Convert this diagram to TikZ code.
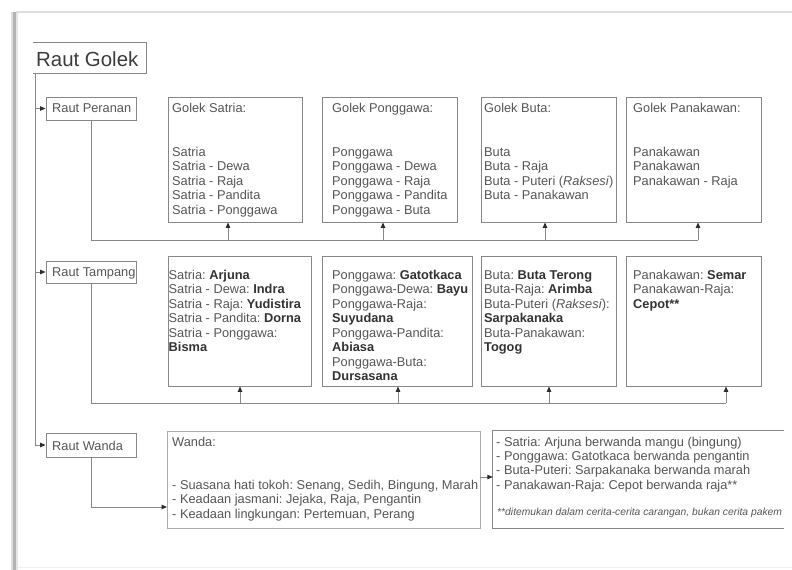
\documentclass[tikz,border=0pt]{standalone}
\usepackage{fontspec}
\setmainfont{Liberation Sans}
\usetikzlibrary{arrows.meta,fit}
\definecolor{linec}{RGB}{135,135,135}
\definecolor{txtc}{RGB}{85,85,85}
\definecolor{boldc}{RGB}{50,50,50}
\definecolor{arrc}{RGB}{45,45,45}
\definecolor{titlec}{RGB}{60,60,60}
\newcommand{\rows}[1]{\begin{tabular}[t]{@{}l@{}}#1\end{tabular}}
\newcommand{\bb}[1]{\textbf{\color{boldc}#1}}
\frenchspacing
\begin{document}
\frenchspacing
\begin{tikzpicture}[x=1bp,y=-1bp,
  box/.style={draw=linec, line width=0.9bp, inner sep=0pt},
  lightbox/.style={draw=linec!70, line width=0.8bp, inner sep=0pt},
  hidden/.style={draw=none, inner sep=0pt},
  txt/.style={inner sep=0pt, anchor=base west, text=txtc, font=\fontsize{12.85}{14.55}\selectfont\frenchspacing},
  conn/.style={draw=linec, line width=0.9bp},
  arr/.style={conn, -{Triangle[length=5.5bp,width=4.5bp,color=arrc]}},
]
\useasboundingbox (0,0) rectangle (792,570);
% page frame
\fill[gray!25] (11,12) rectangle (13,570);
\fill[gray!60] (13,12) rectangle (16,570);
\fill[gray!20] (16,12) rectangle (18,570);
\draw[gray!25, line width=1.2bp] (16,12) -- (792,12);
\draw[gray!12, line width=1bp] (18,567) -- (792,567);

% boxes
\node[hidden, fit={(33,43) (146,73)}] (golek) {};
\draw[conn] (golek.north west) -- (golek.north east) -- (golek.south east) -- (golek.south west);
\node[box, fit={(46,97) (136,120)}] (peranan) {};
\node[box, fit={(46,261) (136,283)}] (tampang) {};
\node[box, fit={(46,433) (136,457)}] (wandalbl) {};

\node[box, fit={(168,97) (302,222)}] (satria1) {};
\node[box, fit={(322,97) (457,222)}] (pong1) {};
\node[box, fit={(481,97) (616,222)}] (buta1) {};
\node[box, fit={(626,97) (761,222)}] (pana1) {};

\node[box, fit={(168,256) (311,386)}] (satria2) {};
\node[box, fit={(322,256) (472,386)}] (pong2) {};
\node[box, fit={(481,256) (616,386)}] (buta2) {};
\node[box, fit={(626,256) (761,386)}] (pana2) {};

\node[lightbox, fit={(167,431) (480,528)}] (wandabox) {};
\node[hidden, fit={(493,431) (784,528)}] (note) {};
\draw[conn] (note.north east) -- (note.north west) -- (note.south west) -- (note.south east);

% labels
\node[txt, text=titlec] (tgolek) at (36,66.7) {\fontsize{20.5}{24}\selectfont Raut Golek};
\node[txt] (tperanan) at (52,112.8) {Raut Peranan};
\node[txt] (ttampang) at (52,276.8) {Raut Tampang};
\node[txt] (twanda) at (52,450) {Raut Wanda};

\node[txt] (ts1) at (172,113) {\rows{Golek Satria:\\ \\ \\ Satria\\ Satria - Dewa\\ Satria - Raja\\ Satria - Pandita\\ Satria - Ponggawa}};
\node[txt] (tp1) at (332,113) {\rows{Golek Ponggawa:\\ \\ \\ Ponggawa\\ Ponggawa - Dewa\\ Ponggawa - Raja\\ Ponggawa - Pandita\\ Ponggawa - Buta}};
\node[txt] (tb1) at (484,113) {\rows{Golek Buta:\\ \\ \\ Buta\\ Buta - Raja\\ Buta - Puteri (\textit{Raksesi})\\ Buta - Panakawan}};
\node[txt] (tk1) at (633,113) {\rows{Golek Panakawan:\\ \\ \\ Panakawan\\ Panakawan\\ Panakawan - Raja}};

\node[txt] (ts2) at (168.5,279.5) {\rows{Satria: \bb{Arjuna}\\ Satria - Dewa: \bb{Indra}\\ Satria - Raja: \bb{Yudistira}\\ Satria - Pandita: \bb{Dorna}\\ Satria - Ponggawa:\\ \bb{Bisma}}};
\node[txt] (tp2) at (332,279.5) {\rows{Ponggawa: \bb{Gatotkaca}\\ Ponggawa-Dewa: \bb{Bayu}\\ Ponggawa-Raja:\\ \bb{Suyudana}\\ Ponggawa-Pandita:\\ \bb{Abiasa}\\ Ponggawa-Buta:\\ \bb{Dursasana}}};
\node[txt] (tb2) at (484,279.5) {\rows{Buta: \bb{Buta Terong}\\ Buta-Raja: \bb{Arimba}\\ Buta-Puteri (\textit{Raksesi}):\\ \bb{Sarpakanaka}\\ Buta-Panakawan:\\ \bb{Togog}}};
\node[txt] (tk2) at (633,279.5) {\rows{Panakawan: \bb{Semar}\\ Panakawan-Raja:\\ \bb{Cepot**}}};

\node[txt] (tw) at (172,446) {\rows{Wanda:\\ \\ \\ - Suasana hati tokoh: Senang, Sedih, Bingung, Marah\\ - Keadaan jasmani: Jejaka, Raja, Pengantin\\ - Keadaan lingkungan: Pertemuan, Perang}};
\node[txt] (tn) at (496,446) {\rows{- Satria: Arjuna berwanda mangu (bingung)\\ - Ponggawa: Gatotkaca berwanda pengantin\\ - Buta-Puteri: Sarpakanaka berwanda marah\\ - Panakawan-Raja: Cepot berwanda raja**}};
\node[txt] (tf) at (497,515.3) {\fontsize{10.35}{12}\selectfont\itshape **ditemukan dalam cerita-cerita carangan, bukan cerita pakem};

% spine
\coordinate (sp) at ([xshift=3bp]golek.south west);
\draw[arr] (sp) |- (wandalbl.west);
\draw[arr] (sp |- peranan.west) -- (peranan.west);
\draw[arr] (sp |- tampang.west) -- (tampang.west);

% row 1 bus
\coordinate (b1a) at (228,240);
\coordinate (b1b) at (383,240);
\coordinate (b1c) at (545,240);
\coordinate (b1d) at (698,240);
\draw[conn] (peranan.south) |- (b1d);
\foreach \c/\n in {b1a/satria1,b1b/pong1,b1c/buta1,b1d/pana1}
  \draw[arr] (\c) -- (\c |- \n.south);

% row 2 bus
\coordinate (b2a) at (240,403);
\coordinate (b2b) at (398,403);
\coordinate (b2c) at (549,403);
\coordinate (b2d) at (726,403);
\draw[conn] (tampang.south) |- (b2d);
\foreach \c/\n in {b2a/satria2,b2b/pong2,b2c/buta2,b2d/pana2}
  \draw[arr] (\c) -- (\c |- \n.south);

% row 3
\coordinate (w3) at (167,507);
\draw[arr] (wandalbl.south) |- (w3);
\coordinate (wn) at (486,477);
\draw[arr] (wandabox.east |- wn) -- (note.west |- wn);
\end{tikzpicture}
\end{document}
